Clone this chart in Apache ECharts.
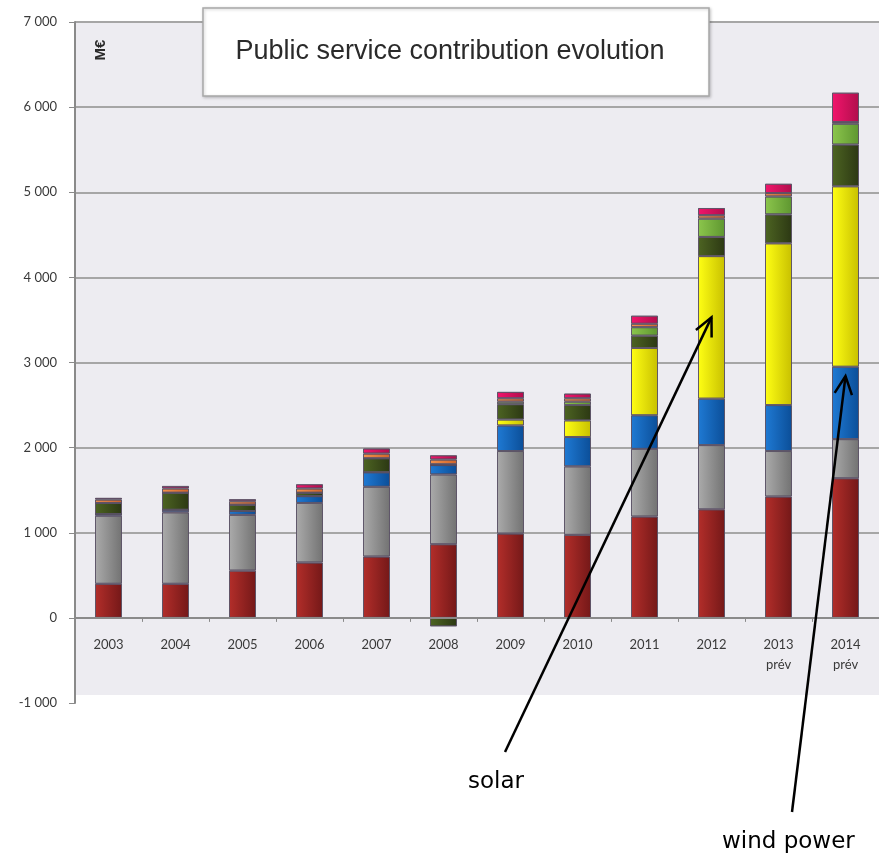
<!DOCTYPE html>
<html>
<head>
<meta charset="utf-8">
<script src="https://cdn.jsdelivr.net/npm/echarts@6/dist/echarts.min.js"></script>
<style>
html,body{margin:0;padding:0;background:#fff;}
#c{width:879px;height:857px;}
</style>
</head>
<body>
<div id="c"></div>
<script>
// ---- data (M€) ----
const years = ['2003','2004','2005','2006','2007','2008','2009','2010','2011','2012','2013\nprév','2014\nprév'];
const redSeg    = [400, 400, 555, 650, 720, 865, 990, 975, 1190, 1275, 1425, 1640];
const graySeg   = [800, 840, 655, 700, 820, 820, 970, 805, 795, 755, 535, 460];
const windSeg   = [20, 30, 45, 80, 170, 110, 300, 345, 395, 545, 540, 850];
const solarSeg  = [0, 0, 0, 0, 0, 0, 70, 195, 790, 1675, 1900, 2120];
const dkGreenSeg= [130, 200, 75, 40, 165, -100, 180, 180, 145, 225, 340, 490];
const ltGreenSeg= [0, 0, 0, 0, 0, 10, 30, 40, 100, 215, 210, 245];
const orangeSeg = [40, 50, 40, 50, 55, 55, 40, 40, 40, 40, 40, 20];
const pinkSeg   = [20, 30, 25, 50, 60, 50, 75, 55, 95, 85, 110, 345];
const yTicks = [-1000, 0, 1000, 2000, 3000, 4000, 5000, 6000, 7000];

function grad(a, b) {
  return new echarts.graphic.LinearGradient(0, 0, 1, 0, [{offset:0,color:a},{offset:1,color:b}]);
}
const segDefs = [
  {name:'red', data:redSeg, c:grad('#b32e2a','#741818')},
  {name:'gray', data:graySeg, c:grad('#ababab','#727272')},
  {name:'wind power', data:windSeg, c:grad('#1f7ad4','#0b4e98')},
  {name:'solar', data:solarSeg, c:grad('#ffff14','#c8c000')},
  {name:'dkgreen', data:dkGreenSeg, c:grad('#4d6422','#2c3813')},
  {name:'ltgreen', data:ltGreenSeg, c:grad('#8cc64c','#5e9630')},
  {name:'orange', data:orangeSeg, c:grad('#f4924c','#d0642a')},
  {name:'pink', data:pinkSeg, c:grad('#f2156c','#b00e4c')}
];

const chart = echarts.init(document.getElementById('c'), null, {renderer:'canvas'});

const fmt = v => {
  const s = Math.abs(v).toString().replace(/\B(?=(\d{3})+(?!\d))/g, ' ');
  return (v < 0 ? '-' : '') + s;
};

const splitColors = yTicks.map(v => v === -1000 ? 'rgba(0,0,0,0)' : '#a6a6a6');
const gridTop = 22, gridBottom = 154, H = 857;
const zeroOffset = (H - gridTop - gridBottom) * 1000 / (yTicks[yTicks.length-1] - yTicks[0]);

chart.setOption({
  animation: false,
  backgroundColor: '#ffffff',
  grid: {left: 75, right: -6, top: gridTop, bottom: gridBottom, containLabel: false},
  xAxis: {
    type: 'category',
    data: years,
    position: 'bottom',
    offset: -zeroOffset,
    axisLine: {onZero: false, lineStyle: {color: '#8a8a8a', width: 2}},
    axisTick: {show: true, length: 4, lineStyle: {color: '#8a8a8a', width: 1}},
    axisLabel: {interval: 0, margin: 17, color: '#3a3a3a', fontFamily: 'Lato', fontSize: 13, lineHeight: 20},
    z: 5
  },
  yAxis: {
    type: 'value',
    min: -1000, max: 7000, interval: 1000,
    axisLine: {show: true, lineStyle: {color: '#8a8a8a', width: 2}},
    axisTick: {show: true, length: 6, lineStyle: {color: '#8a8a8a', width: 1}},
    axisLabel: {formatter: fmt, margin: 18, color: '#3a3a3a', fontFamily: 'Lato', fontSize: 13},
    splitLine: {show: true, lineStyle: {color: splitColors, width: 2}}
  },
  series: segDefs.map(d => ({
    name: d.name,
    type: 'bar',
    stack: 'total',
    barWidth: 27,
    data: d.data,
    itemStyle: {color: d.c, borderColor: 'rgba(90,80,100,0.75)', borderWidth: 1}
  }))
});

// annotations positioned relative to data
const solarTip = chart.convertToPixel({gridIndex: 0}, [9, 3530]);
const windTip  = chart.convertToPixel({gridIndex: 0}, [11, 2840]);
const bgTop = chart.convertToPixel({gridIndex: 0}, [0, 7000]);
const bgBot = chart.convertToPixel({gridIndex: 0}, [0, -905]);

function arrow(from, tip) {
  const dx = tip[0] - from[0], dy = tip[1] - from[1];
  const ang = Math.atan2(dy, dx);
  const L = 20, a = 0.45;
  const p1 = [tip[0] - L*Math.cos(ang - a), tip[1] - L*Math.sin(ang - a)];
  const p2 = [tip[0] - L*Math.cos(ang + a), tip[1] - L*Math.sin(ang + a)];
  return [
    {type:'line', shape:{x1:from[0], y1:from[1], x2:tip[0], y2:tip[1]}, style:{stroke:'#000', lineWidth:2.5}, z:100},
    {type:'polyline', shape:{points:[p1, tip, p2]}, style:{stroke:'#000', lineWidth:2.5, fill:null}, z:100}
  ];
}

chart.setOption({
  graphic: [
    {type:'rect', shape:{x: 75, y: bgTop[1], width: 810, height: bgBot[1]-bgTop[1]}, style:{fill:'#edecf1'}, z:-10, silent:true},
    {type:'rect', shape:{x:203, y:8, width:506, height:88}, style:{fill:'#ffffff', stroke:'#a8a8a8', lineWidth:1.5, shadowBlur:3, shadowColor:'rgba(0,0,0,0.2)', shadowOffsetX:1, shadowOffsetY:1}, z:50},
    {type:'text', x:450, y:52, style:{text:'Public service contribution evolution', fontFamily:'Liberation Sans', fontSize:27, fill:'#2a2a2a', textAlign:'center', textVerticalAlign:'middle'}, z:51},
    {type:'text', x:101, y:50, rotation: Math.PI/2, style:{text:'M€', fontFamily:'Liberation Sans', fontWeight:'bold', fontSize:15, fill:'#2a2a2a', textAlign:'center', textVerticalAlign:'middle'}, z:51},
    {type:'text', x:468, y:782, style:{text:'solar', fontFamily:'DejaVu Sans', fontSize:23, fill:'#000', textAlign:'left', textVerticalAlign:'middle'}, z:100},
    {type:'text', x:722, y:842, style:{text:'wind power', fontFamily:'DejaVu Sans', fontSize:23, fill:'#000', textAlign:'left', textVerticalAlign:'middle'}, z:100}
  ].concat(arrow([505, 752], solarTip), arrow([792, 812], windTip))
});
</script>
</body>
</html>
